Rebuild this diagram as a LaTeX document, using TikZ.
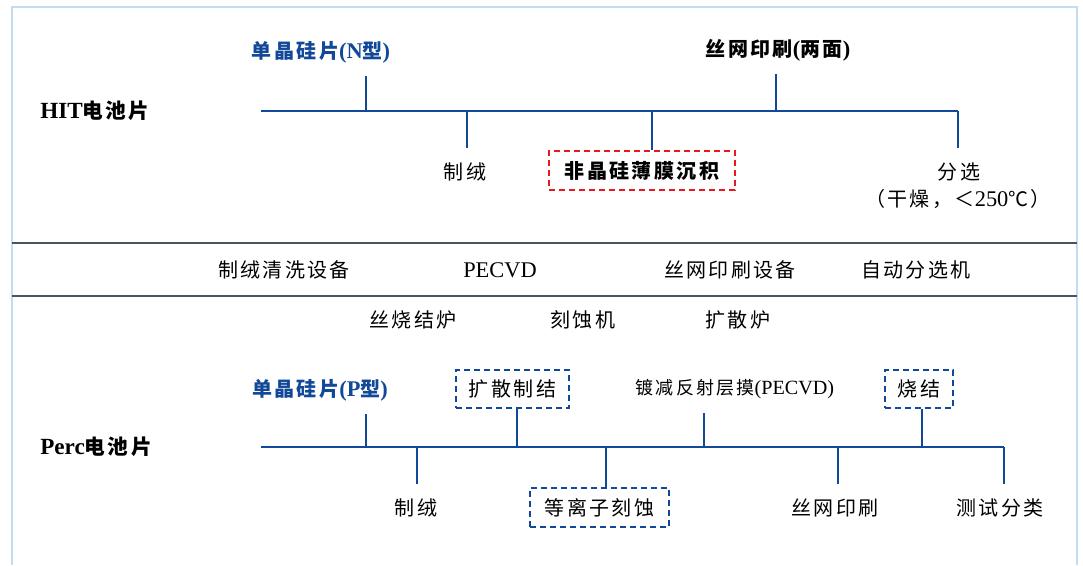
\documentclass[tikz,border=0pt]{standalone}
\usepackage{fontspec}
\setmainfont{Liberation Serif}[Scale=1.12]
\newfontfamily\cjk[LetterSpace=12]{Noto Sans CJK SC}
\newcommand\zhs[1]{{\cjk #1}}
\definecolor{lineblue}{RGB}{18,72,152}
\definecolor{frameblue}{RGB}{196,220,240}
\definecolor{sepgray}{RGB}{72,82,98}
\definecolor{boxred}{RGB}{232,24,30}
\begin{document}
\begin{tikzpicture}[x=0.75pt,y=-0.75pt,
  lbl/.style={inner sep=0pt, minimum height=35pt, font=\fontsize{15}{18}\selectfont},
  blbl/.style={lbl, font=\fontsize{15}{18}\selectfont\bfseries},
  bluelbl/.style={blbl, text=lineblue},
  small/.style={lbl, font=\fontsize{13.5}{16}\selectfont},
  title/.style={inner sep=0pt, anchor=west, font=\fontsize{15.5}{19}\selectfont\bfseries},
  dbox/.style={draw=lineblue, line width=1.5pt, dash pattern=on 4.5pt off 3pt, inner sep=0pt, font=\fontsize{15}{18}\selectfont},
  rbox/.style={draw=boxred, line width=1.5pt, dash pattern=on 4.5pt off 3pt, inner sep=0pt, font=\fontsize{15}{18}\selectfont\bfseries},
  bus/.style={draw=lineblue, line width=1.6pt},
  sep/.style={draw=sepgray, line width=1.5pt},
  frame/.style={draw=frameblue, line width=1.5pt}]
\useasboundingbox (0,0) rectangle (1083,565);
% frame and separators
\draw[frame] (12,565) -- (12,7) -- (1077,7) -- (1077,565);
\draw[sep] (12,243) -- (1077,243);
\draw[sep] (12,296) -- (1077,296);

% ---------------- HIT ----------------
\node[title] (hit) at (40,111) {HIT\zhs{电池片}};
\coordinate (ha) at (261,111);
\coordinate (hb) at (958,111);
\coordinate (t1) at (366,111);
\coordinate (t2) at (776,111);
\coordinate (t3) at (467,111);
\coordinate (t4) at (652,111);
\draw[bus] (ha) -- (hb);
\node[bluelbl] (n1) at (321,52) {\zhs{单晶硅片}(N\zhs{型})};
\node[blbl] (n2) at (778,50) {\zhs{丝网印刷}(\zhs{两面})};
\node[lbl] (n3) at (465,172) {\zhs{制绒}};
\node[rbox, minimum width=139.5pt, minimum height=29.25pt] (n4) at (642,170.5) {\zhs{非晶硅薄膜沉积}};
\node[lbl] (n5) at (959,172) {\zhs{分选}};
\node[inner sep=0pt, font=\fontsize{15}{18}\selectfont] (n5b) at (958,199) {\zhs{（干燥，＜}250\zhs{℃）}};
\draw[bus] (t1) -- (t1 |- n1.south);
\draw[bus] (t2) -- (t2 |- n2.south);
\draw[bus] (t3) -- (t3 |- n3.north);
\draw[bus] (t4) -- (t4 |- n4.north);
\draw[bus] (hb) -- (hb |- n5.north);

% ---------------- equipment ----------------
\node[lbl] (m1) at (284,270) {\zhs{制绒清洗设备}};
\node[lbl] (m2) at (500,270) {PECVD};
\node[lbl] (m3) at (730,270) {\zhs{丝网印刷设备}};
\node[lbl] (m4) at (916,270) {\zhs{自动分选机}};
\node[lbl] (m5) at (413,320) {\zhs{丝烧结炉}};
\node[lbl] (m6) at (583,320) {\zhs{刻蚀机}};
\node[lbl] (m7) at (738,320) {\zhs{扩散炉}};

% ---------------- Perc ----------------
\node[title] (perc) at (40,447) {Perc\zhs{电池片}};
\coordinate (pa) at (261,447);
\coordinate (pb) at (1004,447);
\coordinate (p1) at (366,447);
\coordinate (p2) at (517,447);
\coordinate (p3) at (704,447);
\coordinate (p4) at (922,447);
\coordinate (q1) at (417,447);
\coordinate (q2) at (606,447);
\coordinate (q3) at (838,447);
\draw[bus] (pa) -- (pb);
\node[bluelbl] (r1) at (320,390) {\zhs{单晶硅片}(P\zhs{型})};
\node[dbox, minimum width=84.75pt, minimum height=28.5pt] (r2) at (512.5,389) {\zhs{扩散制结}};
\node[small] (r3) at (735,389) {\zhs{镀减反射层摸}(PECVD)};
\node[dbox, minimum width=51pt, minimum height=28.5pt] (r4) at (919,389) {\zhs{烧结}};
\node[lbl] (s1) at (416,508) {\zhs{制绒}};
\node[dbox, minimum width=104.25pt, minimum height=29.25pt] (s2) at (599.5,507.5) {\zhs{等离子刻蚀}};
\node[lbl] (s3) at (835,508) {\zhs{丝网印刷}};
\node[lbl] (s4) at (1000,508) {\zhs{测试分类}};
\draw[bus] (p1) -- (p1 |- r1.south);
\draw[bus] (p2) -- (p2 |- r2.south);
\draw[bus] (p3) -- (p3 |- r3.south);
\draw[bus] (p4) -- (p4 |- r4.south);
\draw[bus] (q1) -- (q1 |- s1.north);
\draw[bus] (q2) -- (q2 |- s2.north);
\draw[bus] (q3) -- (q3 |- s3.north);
\draw[bus] (pb) -- (pb |- s4.north);
\end{tikzpicture}
\end{document}
